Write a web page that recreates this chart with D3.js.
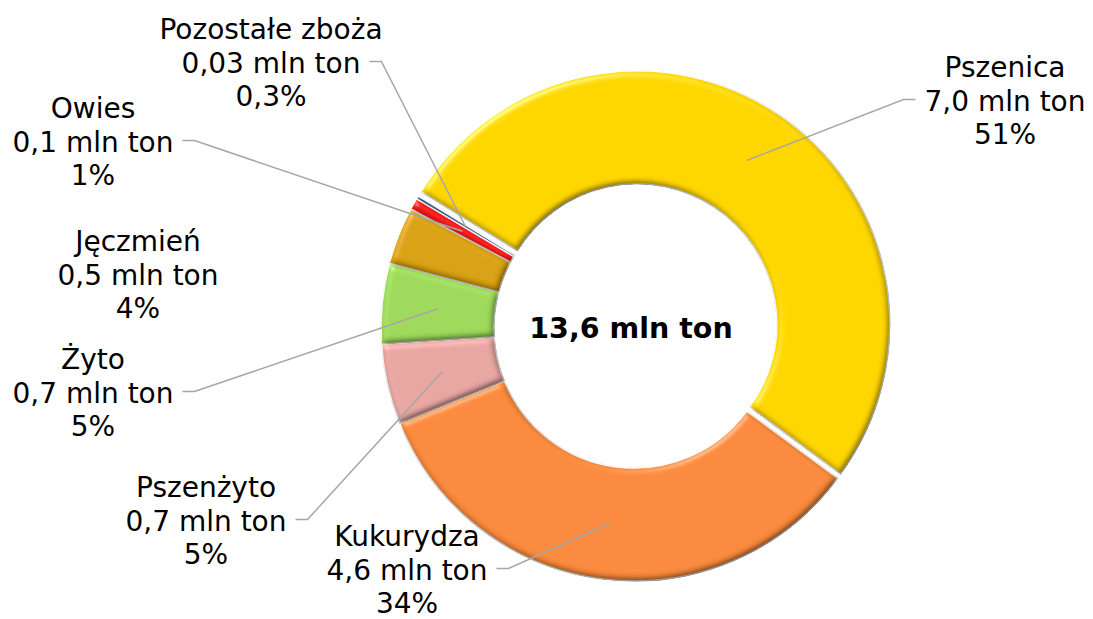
<!DOCTYPE html>
<html>
<head>
<meta charset="utf-8">
<script src="https://cdn.jsdelivr.net/npm/d3@7"></script>
<style>
  body { margin: 0; background: #fff; }
  text { font-family: "DejaVu Sans", Verdana, sans-serif; }
</style>
</head>
<body>
<div id="chart"></div>
<script>
// dane
var categories = ["Pszenica", "Kukurydza", "Pszenżyto", "Żyto", "Jęczmień", "Owies", "Pozostałe zboża"];
var values = [7.0, 4.6, 0.7, 0.7, 0.5, 0.1, 0.03];
var valueLabels = ["7,0", "4,6", "0,7", "0,7", "0,5", "0,1", "0,03"];
var percentLabels = ["51%", "34%", "5%", "5%", "4%", "1%", "0,3%"];
var colors = ["#FFD700", "#F98A3C", "#E8A6A2", "#9ED95B", "#D9A10C", "#FF1A1A", "#3D5A80"];

// położenie etykiet
var labelLayout = [
    { x: 1005, y: 77, side: "right", leader: true },
    { x: 407, y: 546, side: "left", leader: true },
    { x: 206, y: 497, side: "left", leader: true },
    { x: 93, y: 369, side: "left", leader: true },
    { x: 138, y: 251, side: "left", leader: false },
    { x: 93, y: 118, side: "left", leader: true },
    { x: 271, y: 39, side: "left", leader: true }
];

var width = 1093, height = 619;
var cx = 634, cy = 328;
var outerR = 253, innerR = 140, explode = 5;
var lineH = 33.5;

var svg = d3.select("#chart").append("svg")
    .attr("width", width)
    .attr("height", height);

var defs = svg.append("defs");
var f = defs.append("filter").attr("id", "bevel")
    .attr("x", "-10%").attr("y", "-10%").attr("width", "120%").attr("height", "120%");
f.append("feGaussianBlur").attr("in", "SourceAlpha").attr("stdDeviation", 3.5).attr("result", "blur");
f.append("feDiffuseLighting").attr("in", "blur").attr("surfaceScale", 5).attr("diffuseConstant", 1)
    .attr("lighting-color", "#fff").attr("result", "diff")
    .append("feDistantLight").attr("azimuth", 235).attr("elevation", 60);
f.append("feSpecularLighting").attr("in", "blur").attr("surfaceScale", 4).attr("specularConstant", 0.4)
    .attr("specularExponent", 45).attr("lighting-color", "#fff").attr("result", "spec")
    .append("feDistantLight").attr("azimuth", 235).attr("elevation", 40);
f.append("feComposite").attr("in", "SourceGraphic").attr("in2", "diff").attr("operator", "arithmetic")
    .attr("k1", 1.155).attr("k2", 0).attr("k3", 0).attr("k4", 0).attr("result", "lit");
f.append("feComposite").attr("in", "spec").attr("in2", "SourceAlpha").attr("operator", "in").attr("result", "specIn");
f.append("feComposite").attr("in", "lit").attr("in2", "specIn").attr("operator", "arithmetic")
    .attr("k1", 0).attr("k2", 1).attr("k3", 0.5).attr("k4", 0).attr("result", "sum");
f.append("feComposite").attr("in", "sum").attr("in2", "SourceAlpha").attr("operator", "in");

var startA = -58.5 * Math.PI / 180;
var pie = d3.pie().sort(null).startAngle(startA).endAngle(startA + 2 * Math.PI);
var arcs = pie(values);

var arc = d3.arc().innerRadius(innerR).outerRadius(outerR);
var mid = d3.arc().innerRadius(197).outerRadius(197);

function offset(d, i) {
    if (i !== 0) return [0, 0];
    var a = (d.startAngle + d.endAngle) / 2;
    return [Math.sin(a) * explode, -Math.cos(a) * explode];
}

var g = svg.append("g").attr("transform", "translate(" + cx + "," + cy + ")");

g.selectAll("path.slice")
    .data(arcs)
    .enter().append("path")
    .attr("class", "slice")
    .attr("d", arc)
    .attr("transform", function (d, i) { return "translate(" + offset(d, i) + ")"; })
    .attr("fill", function (d, i) { return colors[i]; })
    .attr("stroke", "#fff")
    .attr("stroke-width", 1.5)
    .attr("filter", "url(#bevel)");

// etykiety
var labels = svg.append("g");
arcs.forEach(function (d, i) {
    var L = labelLayout[i];
    var t = labels.append("text")
        .attr("text-anchor", "middle")
        .attr("font-size", 28)
        .attr("fill", "#000");
    var lines = [categories[i], valueLabels[i] + " mln ton", percentLabels[i]];
    var spans = lines.map(function (s, k) {
        return t.append("tspan").attr("x", L.x).attr("y", L.y + k * lineH).text(s);
    });
    if (!L.leader) return;
    var w = spans[1].node().getComputedTextLength();
    var ly = L.y + lineH - 11;
    var x1, x2;
    if (L.side === "left") { x1 = L.x + w / 2 + 9; x2 = x1 + 12; }
    else { x1 = L.x - w / 2 - 9; x2 = x1 - 12; }
    var c = mid.centroid(d), o = offset(d, i);
    var px = cx + c[0] + o[0], py = cy + c[1] + o[1];
    labels.append("polyline")
        .attr("points", [[x1, ly], [x2, ly], [px, py]].map(function (p) { return p.join(","); }).join(" "))
        .attr("fill", "none")
        .attr("stroke", "#A6A6A6")
        .attr("stroke-width", 1.5);
});

var total = d3.sum(values);
svg.append("text")
    .attr("x", cx - 3)
    .attr("y", cy + 10)
    .attr("text-anchor", "middle")
    .attr("font-size", 28.5)
    .attr("font-weight", "bold")
    .text(d3.format(".1f")(total).replace(".", ",") + " mln ton");
</script>
</body>
</html>
